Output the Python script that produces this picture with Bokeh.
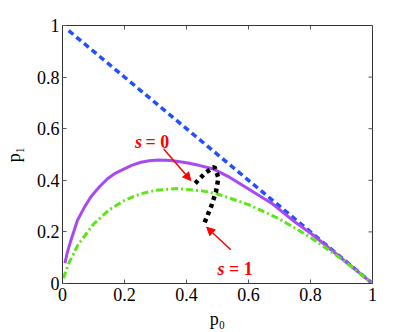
from bokeh.plotting import figure
from bokeh.models import FixedTicker, Arrow, NormalHead, Range1d, Label
from bokeh.embed import file_html
from bokeh.resources import INLINE

# ---- data ----
ticks = [0, 0.2, 0.4, 0.6, 0.8, 1]
tick_labels = ["0", "0.2", "0.4", "0.6", "0.8", "1"]

blue_p0 = [0.02, 1.0]
blue_p1 = [0.98, 0.0]

purple_p0 = [0.008, 0.015, 0.027, 0.048, 0.07, 0.091, 0.12, 0.145, 0.17, 0.199, 0.225, 0.253, 0.28, 0.31, 0.35, 0.4, 0.44, 0.484, 0.54, 0.591, 0.677, 0.75, 0.806, 0.9, 1.0]
purple_p1 = [0.079, 0.118, 0.167, 0.244, 0.294, 0.335, 0.376, 0.406, 0.427, 0.444, 0.459, 0.470, 0.476, 0.479, 0.477, 0.468, 0.458, 0.445, 0.411, 0.373, 0.309, 0.238, 0.190, 0.098, 0.0]

green_p0 = [0.003, 0.02, 0.05, 0.1, 0.15, 0.2, 0.25, 0.3, 0.37, 0.45, 0.5, 0.6, 0.7, 0.8, 0.9, 1.0]
green_p1 = [0.02, 0.078, 0.150, 0.230, 0.285, 0.322, 0.347, 0.361, 0.368, 0.359, 0.347, 0.306, 0.250, 0.179, 0.095, 0.0]

black_p0 = [0.428, 0.46, 0.49, 0.503, 0.495, 0.48, 0.457]
black_p1 = [0.388, 0.428, 0.452, 0.41, 0.355, 0.30, 0.232]

arrow0 = dict(x_start=0.326, y_start=0.522, x_end=0.414, y_end=0.399)
arrow1 = dict(x_start=0.543, y_start=0.131, x_end=0.465, y_end=0.218)

FONT = "Liberation Serif"
FW, FH = 310, 258
TICK_LEN = 4

p = figure(frame_width=FW, frame_height=FH,
           x_range=Range1d(0, 1), y_range=Range1d(0, 1),
           output_backend="svg", toolbar_location=None,
           min_border_left=60, min_border_top=25, min_border_right=30, min_border_bottom=44,
           background_fill_color="white", border_fill_color="white")
p.grid.visible = False
p.outline_line_color = "#333333"

for ax in (p.xaxis[0], p.yaxis[0]):
    ax.ticker = FixedTicker(ticks=ticks)
    ax.major_label_overrides = {t: l for t, l in zip(ticks, tick_labels)}
    ax.major_label_text_font = FONT
    ax.major_label_text_font_size = "18px"
    ax.major_label_text_color = "black"
    ax.major_tick_in = TICK_LEN
    ax.major_tick_out = 0
    ax.minor_tick_line_color = None
    ax.axis_line_color = "#333333"
    ax.major_tick_line_color = "#555555"
    ax.axis_label_text_font = FONT
    ax.axis_label_text_font_size = "18px"
    ax.axis_label_text_font_style = "normal"
    ax.axis_label_text_color = "black"

p.xaxis.axis_label = "p₀"
p.yaxis.axis_label = "p₁"
p.xaxis.major_label_standoff = 4
p.yaxis.major_label_standoff = 3
p.xaxis.axis_label_standoff = 5
p.yaxis.axis_label_standoff = 10

# ticks on the top and right edges of the box (pointing inward)
dx = TICK_LEN / FW
dy = TICK_LEN / FH
p.segment(x0=ticks, y0=[1] * len(ticks), x1=ticks, y1=[1 - dy] * len(ticks),
          line_color="#555555", line_width=1)
p.segment(x0=[1] * len(ticks), y0=ticks, x1=[1 - dx] * len(ticks), y1=ticks,
          line_color="#555555", line_width=1)

p.line(blue_p0, blue_p1, line_color="#2150ff", line_width=3.5, line_dash="6 4")
p.line(purple_p0, purple_p1, line_color="#a84af2", line_width=3)
p.line(green_p0, green_p1, line_color="#5ce616", line_width=3, line_dash="7 3 2 3")
p.line(black_p0, black_p1, line_color="black", line_width=4.5, line_dash="4 4")

for a in (arrow0, arrow1):
    p.add_layout(Arrow(end=NormalHead(size=8, fill_color="red", line_color="red"),
                       line_color="red", line_width=1.5, **a))

for (xs, xe, yb, txt) in ((0.234, 0.268, 0.548, "0"), (0.5, 0.537, 0.057, "1")):
    p.add_layout(Label(x=xs, y=yb, text="s", text_font=FONT, text_font_size="18px",
                       text_font_style="bold italic", text_color="red",
                       text_baseline="alphabetic", text_align="left"))
    p.add_layout(Label(x=xe, y=yb, text="= " + txt, text_font=FONT, text_font_size="18px",
                       text_font_style="bold", text_color="red",
                       text_baseline="alphabetic", text_align="left"))

open("out.html", "w").write(file_html(p, INLINE))
